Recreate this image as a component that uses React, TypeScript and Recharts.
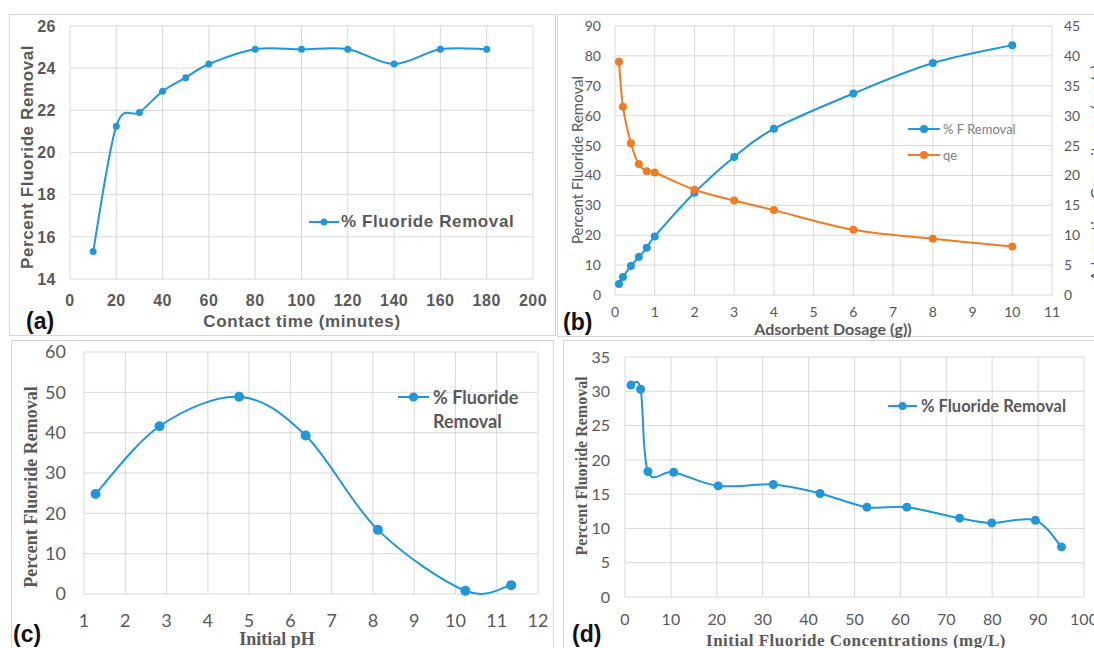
import React from "react"
import { LineChart, Line, XAxis, YAxis, CartesianGrid, Legend, Label } from "recharts"

// (a) contact time
const timeMin = [10, 20, 30, 40, 50, 60, 80, 100, 120, 140, 160, 180]
const removalByTime = [15.3, 21.25, 21.9, 22.9, 23.55, 24.2, 24.9, 24.9, 24.9, 24.2, 24.9, 24.9]
const timeTicks = [0, 20, 40, 60, 80, 100, 120, 140, 160, 180, 200]
const removalTimeTicks = [14, 16, 18, 20, 22, 24, 26]

// (b) adsorbent dosage
const dosage = [0.1, 0.2, 0.4, 0.6, 0.8, 1, 2, 3, 4, 6, 8, 10]
const removalByDosage = [3.7, 6, 9.7, 12.7, 15.8, 19.6, 34.2, 46.2, 55.6, 67.4, 77.6, 83.6]
const qeByDosage = [39, 31.5, 25.4, 21.9, 20.7, 20.5, 17.6, 15.8, 14.2, 10.9, 9.4, 8.1]
const dosageTicks = [0, 1, 2, 3, 4, 5, 6, 7, 8, 9, 10, 11]
const removalDosageTicks = [0, 10, 20, 30, 40, 50, 60, 70, 80, 90]
const qeTicks = [0, 5, 10, 15, 20, 25, 30, 35, 40, 45]

// (c) initial pH
const initialPH = [1.28, 2.83, 4.76, 6.37, 8.12, 10.24, 11.35]
const removalByPH = [24.8, 41.6, 48.9, 39.3, 15.9, 0.8, 2.2]
const pHTicks = [1, 2, 3, 4, 5, 6, 7, 8, 9, 10, 11, 12]
const removalPHTicks = [0, 10, 20, 30, 40, 50, 60]

// (d) initial concentration
const initialConc = [1.3, 3.4, 5, 10.6, 20.3, 32.3, 42.5, 52.7, 61.4, 72.9, 79.9, 89.4, 95.1]
const removalByConc = [30.9, 30.3, 18.3, 18.2, 16.2, 16.4, 15.1, 13.1, 13.1, 11.5, 10.8, 11.2, 7.3]
const concTicks = [0, 10, 20, 30, 40, 50, 60, 70, 80, 90, 100]
const removalConcTicks = [0, 5, 10, 15, 20, 25, 30, 35]

const dataA = timeMin.map((x, i) => ({ x, y: removalByTime[i] }))
const dataB = dosage.map((x, i) => ({ x, y: removalByDosage[i], qe: qeByDosage[i] }))
const dataC = initialPH.map((x, i) => ({ x, y: removalByPH[i] }))
const dataD = initialConc.map((x, i) => ({ x, y: removalByConc[i] }))

const BLUE = "#2196d9"
const ORANGE = "#f27b21"
const GRID = "#d9d9d9"
const GREY = "#595959"

// Excel-style smoothed line (catmull-rom through the points)
function excelSmooth(context: any) {
  let pts: number[][] = []
  return {
    areaStart() {},
    areaEnd() {},
    lineStart() {
      pts = []
    },
    point(x: number, y: number) {
      pts.push([+x, +y])
    },
    lineEnd() {
      const n = pts.length
      if (!n) return
      context.moveTo(pts[0][0], pts[0][1])
      for (let i = 0; i < n - 1; i++) {
        const p0 = pts[i - 1] || pts[i]
        const p1 = pts[i]
        const p2 = pts[i + 1]
        const p3 = pts[i + 2] || p2
        context.bezierCurveTo(
          p1[0] + (p2[0] - p0[0]) / 6,
          p1[1] + (p2[1] - p0[1]) / 6,
          p2[0] - (p3[0] - p1[0]) / 6,
          p2[1] - (p3[1] - p1[1]) / 6,
          p2[0],
          p2[1]
        )
      }
    },
  }
}

function titleAt(text: string, x: number, y: number, style: React.CSSProperties, rotate = false) {
  return (
    <Label
      content={() => (
        <text
          x={x}
          y={y}
          textAnchor="middle"
          dominantBaseline="central"
          transform={rotate ? `rotate(-90 ${x} ${y})` : undefined}
          style={style}
        >
          {text}
        </text>
      )}
    />
  )
}

function legendContent(font: React.CSSProperties, rowH: number, lineW: number, r: number, gap: number, textW?: number) {
  return (props: any) => (
    <div style={font}>
      {(props.payload || []).map((p: any) => (
        <div key={p.value} style={{ display: "flex", alignItems: "flex-start", lineHeight: `${rowH}px` }}>
          <svg width={lineW} height={rowH} style={{ flex: "none" }}>
            <line x1={0} x2={lineW} y1={rowH / 2} y2={rowH / 2} stroke={p.color} strokeWidth={2} />
            <circle cx={lineW / 2} cy={rowH / 2} r={r} fill={p.color} />
          </svg>
          <span style={{ marginLeft: gap, width: textW, whiteSpace: textW ? "normal" : "nowrap" }}>{p.value}</span>
        </div>
      ))}
    </div>
  )
}

const arialBold: React.CSSProperties = { fontFamily: "'Liberation Sans', Arial, sans-serif", fontWeight: 700, fill: GREY, color: GREY }
const timesBold: React.CSSProperties = { fontFamily: "'Liberation Serif', 'Times New Roman', serif", fontWeight: 700, fill: GREY }

const frame = (left: number, top: number, width: number, height: number): React.CSSProperties => ({
  position: "absolute",
  left,
  top,
  width,
  height,
  border: "1px solid #d6d6d6",
  boxSizing: "border-box",
})

const panelTag = (left: number, top: number): React.CSSProperties => ({
  position: "absolute",
  left,
  top,
  fontFamily: "'Liberation Sans', Arial, sans-serif",
  fontWeight: 700,
  fontSize: 23,
  lineHeight: "24px",
  color: "#111",
})

export default function App() {
  return (
    <div style={{ position: "absolute", left: 0, top: 0, width: 1094, height: 648, overflow: "hidden", background: "#fff" }}>
      <div style={frame(9, 14, 547, 322)} />
      <div style={frame(557, 14, 560, 323)} />
      <div style={frame(11, 340, 543, 320)} />
      <div style={frame(563, 340, 560, 320)} />

      {/* (a) */}
      <div style={{ position: "absolute", left: 10, top: 15 }}>
        <LineChart width={545} height={320} data={dataA} margin={{ top: 11, right: 22, left: 0, bottom: 0 }}>
          <CartesianGrid stroke={GRID} />
          <XAxis
            dataKey="x"
            type="number"
            domain={[0, 200]}
            ticks={timeTicks}
            interval={0}
            height={56}
            axisLine={false}
            tickLine={false}
            tickSize={0}
            tickMargin={16}
            tick={{ ...arialBold, fontSize: 16, letterSpacing: 0.5 }}
            label={titleAt("Contact time (minutes)", 292, 306, { ...arialBold, fontSize: 17, letterSpacing: 0.6 })}
          />
          <YAxis
            type="number"
            domain={[14, 26]}
            ticks={removalTimeTicks}
            interval={0}
            width={60}
            axisLine={false}
            tickLine={false}
            tickSize={0}
            tickMargin={14}
            tick={{ ...arialBold, fontSize: 16, letterSpacing: 0.5 }}
            label={titleAt("Percent Fluoride Removal", 17, 142, { ...arialBold, fontSize: 17, letterSpacing: 0.6 }, true)}
          />
          <Legend
            layout="vertical"
            align="center"
            verticalAlign="middle"
            wrapperStyle={{ left: 299, top: 197, width: 240 }}
            content={legendContent(
              { fontFamily: "'Liberation Sans', Arial, sans-serif", fontWeight: 700, fontSize: 17, letterSpacing: 0.6, color: GREY },
              20,
              30,
              3.5,
              2
            )}
          />
          <Line
            name="% Fluoride Removal"
            dataKey="y"
            type={excelSmooth as any}
            stroke={BLUE}
            strokeWidth={2}
            dot={{ r: 3.5, fill: BLUE, stroke: BLUE, strokeWidth: 0 }}
            isAnimationActive={false}
          />
        </LineChart>
      </div>
      <div style={panelTag(26, 309)}>(a)</div>

      {/* (b) */}
      <div style={{ position: "absolute", left: 557, top: 15 }}>
        <LineChart width={537} height={330} data={dataB} margin={{ top: 11, right: 0, left: 0, bottom: 0 }}>
          <CartesianGrid stroke={GRID} yAxisId="left" />
          <XAxis
            dataKey="x"
            type="number"
            domain={[0, 11]}
            ticks={dosageTicks}
            interval={0}
            height={50}
            axisLine={false}
            tickLine={false}
            tickSize={0}
            tickMargin={12}
            tick={{ fontFamily: "Lato, sans-serif", fontSize: 14, fill: GREY }}
            label={titleAt("Adsorbent Dosage (g))", 276, 313, { fontFamily: "Lato, sans-serif", fontWeight: 700, fontSize: 16, fill: GREY })}
          />
          <YAxis
            yAxisId="left"
            type="number"
            domain={[0, 90]}
            ticks={removalDosageTicks}
            interval={0}
            width={58}
            axisLine={false}
            tickLine={false}
            tickSize={0}
            tickMargin={14}
            tick={{ fontFamily: "Lato, sans-serif", fontSize: 14, fill: GREY }}
            label={titleAt("Percent Fluoride Removal", 20, 145, { fontFamily: "Lato, sans-serif", fontSize: 15, fill: GREY }, true)}
          />
          <YAxis
            yAxisId="right"
            orientation="right"
            type="number"
            domain={[0, 45]}
            ticks={qeTicks}
            interval={0}
            width={42}
            axisLine={false}
            tickLine={false}
            tickSize={0}
            tickMargin={12}
            tick={{ fontFamily: "Lato, sans-serif", fontSize: 14, fill: GREY, textAnchor: "start" }}
            label={titleAt("Adsorption Capacity, qe (mg/g)", 538, 158, { fontFamily: "Lato, sans-serif", fontSize: 16, fill: GREY }, true)}
          />
          <Legend
            layout="vertical"
            align="center"
            verticalAlign="middle"
            wrapperStyle={{ left: 351, top: 101, width: 150 }}
            content={legendContent({ fontFamily: "Lato, sans-serif", fontSize: 13, color: "#7f7f7f" }, 26, 32, 4, 3)}
          />
          <Line
            yAxisId="left"
            name="% F Removal"
            dataKey="y"
            type={excelSmooth as any}
            stroke={BLUE}
            strokeWidth={2}
            dot={{ r: 4, fill: BLUE, stroke: BLUE, strokeWidth: 0 }}
            isAnimationActive={false}
          />
          <Line
            yAxisId="right"
            name="qe"
            dataKey="qe"
            type={excelSmooth as any}
            stroke={ORANGE}
            strokeWidth={2}
            dot={{ r: 4, fill: ORANGE, stroke: ORANGE, strokeWidth: 0 }}
            isAnimationActive={false}
          />
        </LineChart>
      </div>
      <div style={panelTag(563, 310)}>(b)</div>

      {/* (c) */}
      <div style={{ position: "absolute", left: 10, top: 341 }}>
        <LineChart width={545} height={307} data={dataC} margin={{ top: 11, right: 17, left: 0, bottom: 0 }}>
          <CartesianGrid stroke={GRID} />
          <XAxis
            dataKey="x"
            type="number"
            domain={[1, 12]}
            ticks={pHTicks}
            interval={0}
            height={54}
            axisLine={false}
            tickLine={false}
            tickSize={0}
            tickMargin={20}
            tick={{ fontFamily: "Lato, sans-serif", fontSize: 18, fill: GREY }}
            label={titleAt("Initial pH", 267, 298, { ...timesBold, fontSize: 18 })}
          />
          <YAxis
            type="number"
            domain={[0, 60]}
            ticks={removalPHTicks}
            interval={0}
            width={74}
            axisLine={false}
            tickLine={false}
            tickSize={0}
            tickMargin={18}
            tick={{ fontFamily: "Lato, sans-serif", fontSize: 18, fill: GREY }}
            label={titleAt("Percent Fluoride Removal", 21, 146, { ...timesBold, fontSize: 18 }, true)}
          />
          <Legend
            layout="vertical"
            align="center"
            verticalAlign="middle"
            wrapperStyle={{ left: 388, top: 44, width: 150 }}
            content={legendContent({ fontFamily: "Lato, sans-serif", fontWeight: 700, fontSize: 18, color: GREY }, 24, 31, 4.5, 4, 100)}
          />
          <Line
            name="% Fluoride Removal"
            dataKey="y"
            type={excelSmooth as any}
            stroke={BLUE}
            strokeWidth={2}
            dot={{ r: 5, fill: BLUE, stroke: BLUE, strokeWidth: 0 }}
            isAnimationActive={false}
          />
        </LineChart>
      </div>
      <div style={panelTag(13, 622)}>(c)</div>

      {/* (d) */}
      <div style={{ position: "absolute", left: 563, top: 341 }}>
        <LineChart width={531} height={307} data={dataD} margin={{ top: 16, right: 10, left: 0, bottom: 0 }}>
          <CartesianGrid stroke={GRID} />
          <XAxis
            dataKey="x"
            type="number"
            domain={[0, 100]}
            ticks={concTicks}
            interval={0}
            height={51}
            axisLine={false}
            tickLine={false}
            tickSize={0}
            tickMargin={17}
            tick={{ fontFamily: "Lato, sans-serif", fontSize: 16, fill: GREY }}
            label={titleAt("Initial Fluoride Concentrations (mg/L)", 293, 299, { ...timesBold, fontSize: 17, letterSpacing: 0.5 })}
          />
          <YAxis
            type="number"
            domain={[0, 35]}
            ticks={removalConcTicks}
            interval={0}
            width={62}
            axisLine={false}
            tickLine={false}
            tickSize={0}
            tickMargin={15}
            tick={{ fontFamily: "Lato, sans-serif", fontSize: 16, fill: GREY }}
            label={titleAt("Percent Fluoride Removal", 18, 125, { ...timesBold, fontSize: 16 }, true)}
          />
          <Legend
            layout="vertical"
            align="center"
            verticalAlign="middle"
            wrapperStyle={{ left: 325, top: 55, width: 200 }}
            content={legendContent({ fontFamily: "Lato, sans-serif", fontWeight: 700, fontSize: 16.5, color: GREY }, 20, 29, 4, 4)}
          />
          <Line
            name="% Fluoride Removal"
            dataKey="y"
            type={excelSmooth as any}
            stroke={BLUE}
            strokeWidth={2}
            dot={{ r: 4.5, fill: BLUE, stroke: BLUE, strokeWidth: 0 }}
            isAnimationActive={false}
          />
        </LineChart>
      </div>
      <div style={panelTag(572, 622)}>(d)</div>
    </div>
  )
}
